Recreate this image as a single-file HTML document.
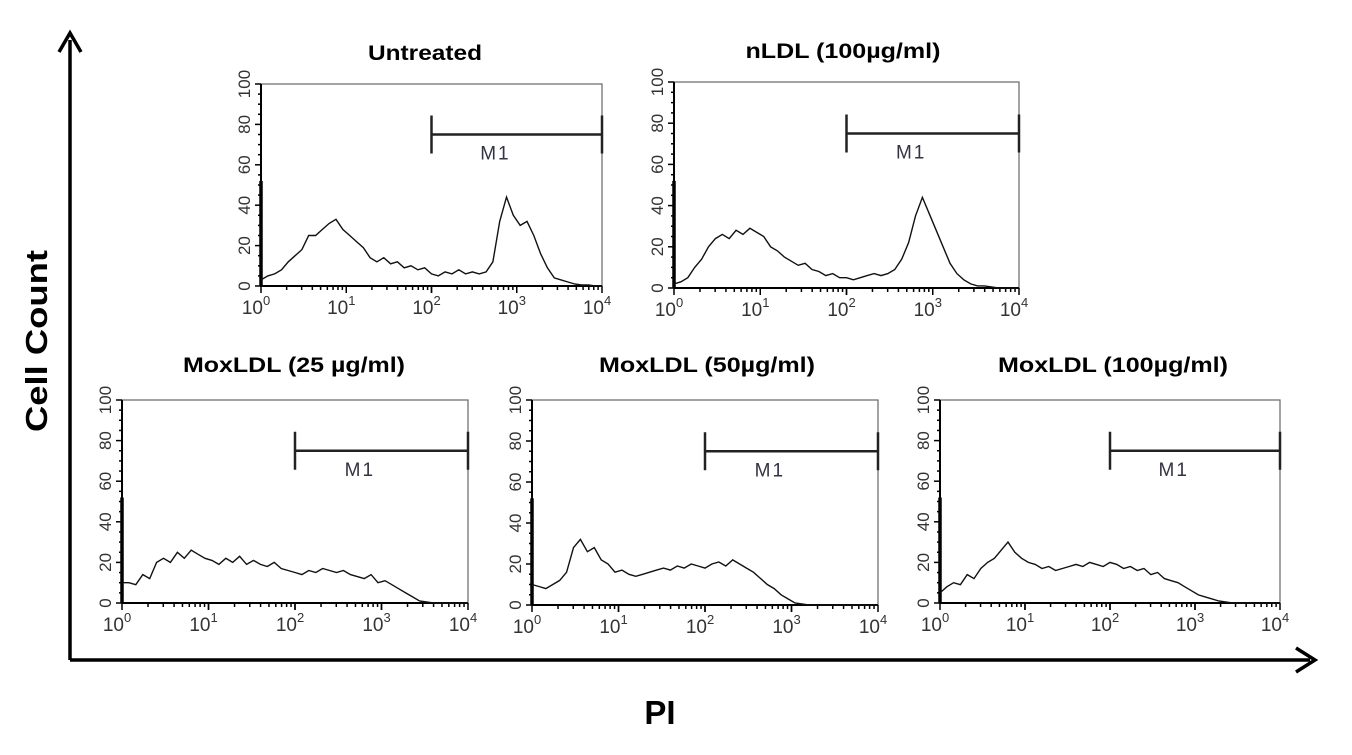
<!DOCTYPE html>
<html><head><meta charset="utf-8"><style>
html,body{margin:0;padding:0;background:#fff;}
svg{display:block;font-family:"Liberation Sans",Arial,sans-serif;}
</style></head><body>
<svg id="c" width="1352" height="755" viewBox="0 0 1352 755">
<g>
<line x1="70" y1="660" x2="70" y2="40" stroke="#000" stroke-width="3.5"/>
<polyline points="59,52 70,33 81,52" fill="none" stroke="#000" stroke-width="3.5"/>
<line x1="70" y1="660" x2="1310" y2="660" stroke="#000" stroke-width="3.5"/>
<polyline points="1296,648 1315,660 1296,672" fill="none" stroke="#000" stroke-width="3.5"/>
</g>
<text x="0" y="0" transform="translate(47,341) rotate(-90)" text-anchor="middle" font-size="31" font-weight="bold" textLength="182" lengthAdjust="spacingAndGlyphs">Cell Count</text>
<text x="660" y="724" text-anchor="middle" font-size="33" font-weight="bold">PI</text>
<g id="panels"></g>
</svg>
<script>
const logX=[0,0.08,0.16,0.24,0.32,0.4,0.48,0.56,0.64,0.72,0.8,0.88,0.96,1.04,1.12,1.2,1.28,1.36,1.44,1.52,1.6,1.68,1.76,1.84,1.92,2,2.08,2.16,2.24,2.32,2.4,2.48,2.56,2.64,2.72,2.8,2.88,2.96,3.04,3.12,3.2,3.28,3.36,3.44,3.52,3.6,3.68,3.76,3.84,3.92,4];
const untreated=[3,5,6,8,12,15,18,25,25,28,31,33,28,25,22,19,14,12,14,11,12,9,10,8,9,6,5,7,6,8,6,7,6,7,12,32,44,35,30,32,25,16,9,4,3,2,1,0.5,0.5,0,0];
const nldl=[2,3,5,10,14,20,24,26,24,28,26,29,27,25,20,18,15,13,11,12,9,8,6,7,5,5,4,5,6,7,6,7,9,14,22,35,44,36,28,20,12,7,4,2,1,1,0.5,0,0,0,0];
const mox25=[10,10,9,14,12,20,22,20,25,22,26,24,22,21,19,22,20,23,19,21,19,18,20,17,16,15,14,16,15,17,16,15,16,14,13,12,14,10,11,9,7,5,3,1,0.5,0,0,0,0,0,0];
const mox50=[10,9,8,10,12,16,28,32,26,28,22,20,16,17,15,14,15,16,17,18,17,19,18,20,19,18,20,21,19,22,20,18,16,13,10,8,5,3,1,0.5,0,0,0,0,0,0,0,0,0,0,0];
const mox100=[5,8,10,9,14,12,17,20,22,26,30,25,22,20,19,17,18,16,17,18,19,18,20,19,18,20,19,17,18,16,17,14,15,12,11,10,8,6,4,3,2,1,0.5,0,0,0,0,0,0,0,0];
const titles=["Untreated","nLDL (100µg/ml)","MoxLDL (25 µg/ml)","MoxLDL (50µg/ml)","MoxLDL (100µg/ml)"];
const yTicks=[0,20,40,60,80,100];
const xTicks=[0,1,2,3,4];
const gate=[2,4,75];
const series=[untreated,nldl,mox25,mox50,mox100];
const boxes=[[261,84,602,286,60,425,114],[674,82,1019,288,58,843,195],[122,400,468,603,372,294,222],[532,400,878,605,372,707,216],[940,400,1280,603,372,1113,230]];
const NS="http://www.w3.org/2000/svg";
const root=document.getElementById('panels');
function mk(t,a,p){const e=document.createElementNS(NS,t);for(const k in a)e.setAttribute(k,a[k]);(p||root).appendChild(e);return e;}
series.forEach((s,i)=>{
  const [L,T,R,B,ty,tx,tw]=boxes[i];
  const g=mk('g',{});
  
  
  const X=v=>L+(R-L)*v/4, Y=v=>B-(B-T)*v/100;
  const tt=mk('text',{x:tx,y:ty,'text-anchor':'middle','font-size':21,'font-weight':'bold',textLength:tw,lengthAdjust:'spacingAndGlyphs'},g);
  tt.textContent=titles[i];
  
  
  mk('rect',{x:L,y:T,width:R-L,height:B-T,fill:'none',stroke:'#666','stroke-width':1.2},g);
  mk('line',{x1:L,y1:T,x2:L,y2:B,stroke:'#000','stroke-width':2},g);
  mk('line',{x1:L,y1:Y(0),x2:L,y2:Y(52),stroke:'#000','stroke-width':3.5},g);
  mk('line',{x1:L,y1:B,x2:R,y2:B,stroke:'#000','stroke-width':2},g);
  for(let v=0;v<=100;v+=5){mk('line',{x1:L-(v%20?3:6),y1:Y(v),x2:L,y2:Y(v),stroke:'#000','stroke-width':1.5},g);}
  yTicks.forEach(v=>{const t=mk('text',{transform:`translate(${L-11},${Y(v)}) rotate(-90)`,'text-anchor':'middle','font-size':17,fill:'#333'},g);t.textContent=v;
    });
  for(let d=0;d<4;d++)for(let m=1;m<=10;m++){const xv=d+Math.log10(m);mk('line',{x1:X(xv),y1:B,x2:X(xv),y2:B+(m==1||m==10?7:4),stroke:'#000','stroke-width':1.5},g);}
  xTicks.forEach(v=>{const t=mk('text',{x:X(v)-5,y:B+28,'text-anchor':'middle','font-size':19,fill:'#333'},g);t.textContent='10';
    const s2=mk('tspan',{dy:-9,'font-size':13},t);s2.textContent=v;
    });
  const gy=Y(gate[2]);
  const gm=mk('g',{},g);
  
  
  mk('line',{x1:X(gate[0]),y1:gy,x2:X(gate[1]),y2:gy,stroke:'#222','stroke-width':2.5},gm);
  mk('line',{x1:X(gate[0]),y1:gy-19,x2:X(gate[0]),y2:gy+19,stroke:'#222','stroke-width':2.5},gm);
  mk('line',{x1:X(gate[1]),y1:gy-19,x2:X(gate[1]),y2:gy+19,stroke:'#222','stroke-width':2.5},gm);
  const ml=mk('text',{x:X(2.75),y:gy+25,'text-anchor':'middle','font-size':19,fill:'#334','letter-spacing':'2'},gm);ml.textContent='M1';
  let d='';s.forEach((v,k)=>{d+=(k?'L':'M')+X(logX[k]).toFixed(1)+','+Y(v).toFixed(1);});
  const p=mk('path',{d:d,fill:'none',stroke:'#111','stroke-width':1.4},g);
  
  
});
</script>
</body></html>
